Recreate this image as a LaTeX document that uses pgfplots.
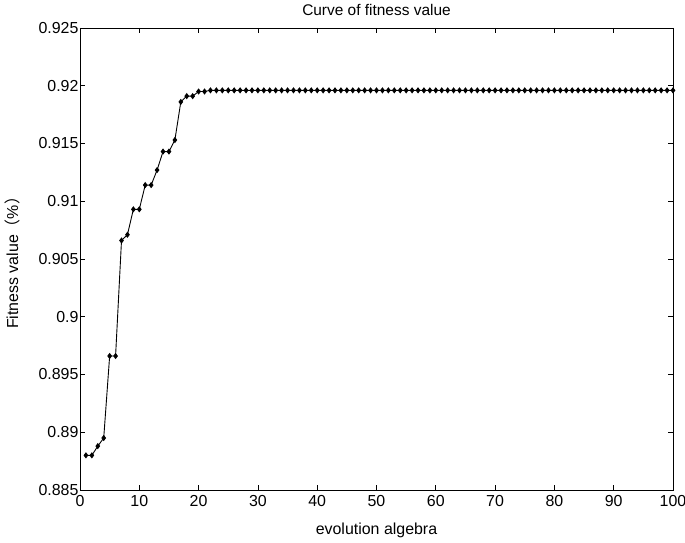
\documentclass[border=0pt]{standalone}
\usepackage{fontspec}
\setmainfont{Liberation Sans}
\newfontfamily\cjk{Noto Sans CJK SC}
\usepackage{pgfplots}
\pgfplotsset{compat=1.18}
\begin{document}
\begin{tikzpicture}[x=1bp,y=1bp]
\begin{axis}[
  name=ax,
  scale only axis,
  width=593bp, height=462bp,
  xmin=0, xmax=100, ymin=0.885, ymax=0.925,
  xtick={0,10,...,100},
  ytick={0.885,0.89,0.895,0.9,0.905,0.91,0.915,0.92,0.925},
  yticklabels={0.885,0.89,0.895,0.9,0.905,0.91,0.915,0.92,0.925},
  scaled y ticks=false,
  tick align=inside,
  major tick length=5bp,
  tick style={black, line width=0.7bp},
  axis line style={line width=0.8bp},
  /pgf/number format/assume math mode=true,
  ticklabel style={font=\fontsize{16}{18}\selectfont},
  xticklabel style={yshift=-2bp},
  yticklabel style={xshift=2bp},
  title={Curve of fitness value},
  title style={font=\fontsize{15.5}{18}\selectfont, yshift=3bp},
  xlabel={evolution algebra},
  ylabel={Fitness value{\cjk（}\%{\cjk）}},
  label style={font=\fontsize{16}{18}\selectfont},
  xlabel style={yshift=-9bp},
  ylabel style={yshift=12bp},
]
\addplot[black, line width=0.9bp, mark=diamond*, mark size=2.4bp, mark options={solid, fill=black}] coordinates {
(1,0.8880)(2,0.8880)(3,0.8888)(4,0.8895)(5,0.8966)(6,0.8966)(7,0.9066)(8,0.9071)(9,0.9093)(10,0.9093)
(11,0.9114)(12,0.9114)(13,0.9127)(14,0.9143)(15,0.9143)(16,0.9153)(17,0.9186)(18,0.9191)(19,0.9191)(20,0.9195)
(21,0.9195)(22,0.9196)(23,0.9196)(24,0.9196)(25,0.9196)(26,0.9196)(27,0.9196)(28,0.9196)(29,0.9196)(30,0.9196)
(31,0.9196)(32,0.9196)(33,0.9196)(34,0.9196)(35,0.9196)(36,0.9196)(37,0.9196)(38,0.9196)(39,0.9196)(40,0.9196)
(41,0.9196)(42,0.9196)(43,0.9196)(44,0.9196)(45,0.9196)(46,0.9196)(47,0.9196)(48,0.9196)(49,0.9196)(50,0.9196)
(51,0.9196)(52,0.9196)(53,0.9196)(54,0.9196)(55,0.9196)(56,0.9196)(57,0.9196)(58,0.9196)(59,0.9196)(60,0.9196)
(61,0.9196)(62,0.9196)(63,0.9196)(64,0.9196)(65,0.9196)(66,0.9196)(67,0.9196)(68,0.9196)(69,0.9196)(70,0.9196)
(71,0.9196)(72,0.9196)(73,0.9196)(74,0.9196)(75,0.9196)(76,0.9196)(77,0.9196)(78,0.9196)(79,0.9196)(80,0.9196)
(81,0.9196)(82,0.9196)(83,0.9196)(84,0.9196)(85,0.9196)(86,0.9196)(87,0.9196)(88,0.9196)(89,0.9196)(90,0.9196)
(91,0.9196)(92,0.9196)(93,0.9196)(94,0.9196)(95,0.9196)(96,0.9196)(97,0.9196)(98,0.9196)(99,0.9196)(100,0.9196)
};
\end{axis}
\path (ax.south west) ++(-80bp,-53bp) coordinate (bbA);
\path (ax.north east) ++(12bp,28bp) coordinate (bbB);
\pgfresetboundingbox
\path[use as bounding box] (bbA) rectangle (bbB);
\end{tikzpicture}
\end{document}
